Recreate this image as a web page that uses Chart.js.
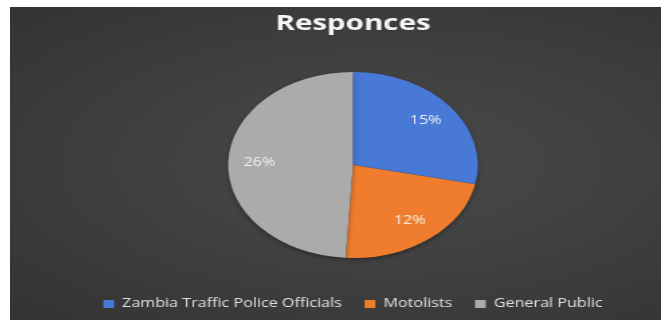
<!DOCTYPE html>
<html>
<head>
<meta charset="utf-8">
<script src="https://cdn.jsdelivr.net/npm/chart.js@4"></script>
<style>
  html, body { margin: 0; padding: 0; background: #fff; }
  #frame {
    position: absolute; left: 10px; top: 7px; width: 651px; height: 313px;
    background: radial-gradient(ellipse at 58% 50%, #4a4a4a 0%, #3e3e3e 55%, #333333 100%);
  }
  #chart { display: block; }
</style>
</head>
<body>
<div id="frame">
  <!-- the picture was a stretched screenshot, so the canvas is drawn narrow and widened -->
  <canvas id="chart" width="485" height="313" style="width: 651px; height: 313px;"></canvas>
</div>
<script>
const categories = ['Zambia Traffic Police Officials', 'Motolists', 'General Public'];
const responses = [15, 12, 26];
const valueLabels = ['15%', '12%', '26%'];
const sliceColors = ['#4879d6', '#f07d2e', '#ababab'];

// Shadow under the pie, and value labels inside each slice
const pieExtras = {
    id: 'pieExtras',
    beforeDatasetsDraw(chart) {
        const ctx = chart.ctx;
        ctx.save();
        ctx.shadowColor = 'rgba(0, 0, 0, 0.35)';
        ctx.shadowBlur = 4;
        ctx.shadowOffsetY = 2;
    },
    afterDatasetsDraw(chart) {
        const ctx = chart.ctx;
        ctx.restore();
        const meta = chart.getDatasetMeta(0);
        ctx.save();
        ctx.font = '12px "Open Sans"';
        ctx.fillStyle = '#f0f0f0';
        ctx.textAlign = 'center';
        ctx.textBaseline = 'middle';
        meta.data.forEach((arc, i) => {
            const { x, y, startAngle, endAngle, outerRadius } =
                arc.getProps(['x', 'y', 'startAngle', 'endAngle', 'outerRadius'], true);
            const mid = (startAngle + endAngle) / 2;
            const r = outerRadius * 0.75;
            ctx.fillText(valueLabels[i], x + Math.cos(mid) * r, y + Math.sin(mid) * r);
        });
        ctx.restore();
    }
};

new Chart(document.getElementById('chart'), {
    type: 'pie',
    data: {
        labels: categories,
        datasets: [{
            data: responses,
            backgroundColor: sliceColors,
            borderWidth: 0,
            radius: 93
        }]
    },
    options: {
        responsive: false,
        animation: false,
        events: [],
        layout: {
            padding: { left: 26, right: 0, top: 0, bottom: 0 }
        },
        plugins: {
            title: {
                display: true,
                text: 'Responces',
                color: '#f5f5f5',
                font: { family: '"Open Sans"', size: 22, weight: 'bold' },
                padding: { top: 4, bottom: 11.6 }
            },
            legend: {
                position: 'bottom',
                labels: {
                    color: '#e0e0e0',
                    font: { family: '"Open Sans"', size: 12 },
                    boxWidth: 8,
                    boxHeight: 8,
                    padding: 17
                }
            },
            tooltip: { enabled: false }
        }
    },
    plugins: [pieExtras]
});
</script>
</body>
</html>
